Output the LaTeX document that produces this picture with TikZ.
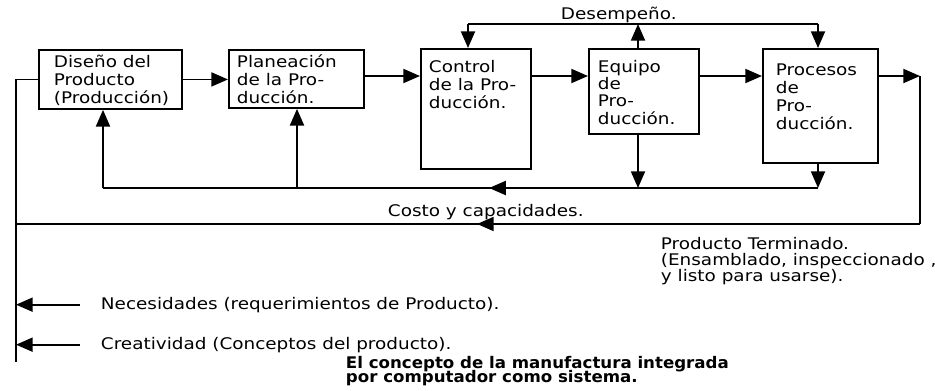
\documentclass[tikz,border=0pt]{standalone}
\usepackage{fontspec}
\setmainfont{DejaVu Sans}[FakeStretch=1.15]
\newfontfamily\capfont{DejaVu Sans Bold}[FakeStretch=1.04]
\usetikzlibrary{arrows.meta, calc, positioning, decorations.markings}
\newcommand{\tightlines}{\lineskiplimit=-5pt\relax}

\begin{document}
\begin{tikzpicture}[x=.75pt, y=-.75pt, >={Triangle[length=12.5pt,width=10.5pt]}, line width=1.4pt,
    blok/.style={draw, anchor=north west, inner sep=0pt},
    btxt/.style={anchor=north west, align=left, inner sep=0pt, font=\fontsize{12}{13.5}\selectfont},
    midarrow/.style={postaction={decorate}, decoration={markings, mark=at position #1 with {\arrow{>}}}}]
\useasboundingbox (0,0) rectangle (935,390);
\node[blok, minimum width=107.25pt, minimum height=44.25pt] (dis) at (38,49) {};
\node[blok, minimum width=101.25pt, minimum height=43.5pt] (pla) at (228,49) {};
\node[blok, minimum width=82.5pt, minimum height=90pt] (con) at (420,48) {};
\node[blok, minimum width=82.5pt, minimum height=63.75pt] (equ) at (588,48) {};
\node[blok, minimum width=86.25pt, minimum height=85.5pt] (pro) at (762,48) {};
\node[btxt] (disT) at (53,54) {Diseño del\\Producto\\(Producción)};
\node[btxt] (plaT) at (236,54) {Planeación\\de la Pro-\\ducción.};
\node[btxt] (conT) at (428,59) {Control\\de la Pro-\\ducción.};
\node[btxt, font=\fontsize{12}{13}\selectfont] (equT) at (597,59) {Equipo\\de\\Pro-\\ducción.};
\node[btxt] (proT) at (775,63) {Procesos\\de\\Pro-\\ducción.};
\node[btxt] (desT) at (560,6) {Desempeño.};
\node[btxt] (cosT) at (387,203) {Costo y capacidades.};
\node[btxt, font=\fontsize{12}{12}\selectfont] (prodT) at (660,236) {Producto Terminado.\\(Ensamblado, inspeccionado ,\\y listo para usarse).};
\node[btxt] (necT) at (100,296) {Necesidades (requerimientos de Producto).};
\node[btxt] (creT) at (100,336) {Creatividad (Conceptos del producto).};
\node[btxt, font={\capfont\fontsize{12}{10.5}\selectfont\tightlines}] (capT) at (345,355) {El concepto de la manufactura integrada\\por computador como sistema.};
\coordinate (row) at (0,76);
\coordinate (oR) at (920,76);
\coordinate (oB) at (920,224);
\coordinate (oL) at (16,224);
\coordinate (lB) at (16,362);
\coordinate (cb1) at (103,188);
\coordinate (cb2) at (297,188);
\coordinate (cb4) at (638,188);
\coordinate (cb5) at (818,188);
\coordinate (ct3) at (468,24);
\coordinate (ct4) at (638,24);
\coordinate (ct5) at (818,24);
\draw[->] (dis.east) -- (dis.east -| pla.west);
\draw[->] (pla.east |- row) -- (con.west |- row);
\draw[->] (con.east |- row) -- (equ.west |- row);
\draw[->] (equ.east |- row) -- (pro.west |- row);
\draw[->] (pro.east |- row) -- (oR);
\draw (oR) -- (oB);
\draw[midarrow=0.49] (oB) -- (oL);
\draw (dis.west) -- (dis.west -| lB) -- (lB);
\draw[->] (cb1) -- (cb1 |- dis.south);
\draw[->] (cb2) -- (cb2 |- pla.south);
\draw[->] (cb4 |- equ.south) -- (cb4);
\draw[->] (cb5 |- pro.south) -- (cb5);
\draw[midarrow=0.46] (cb5) -- (cb1);
\draw[->] (ct4 |- equ.north) -- (ct4);
\draw[->] (ct3) -- (ct3 |- con.north);
\draw[->] (ct5) -- (ct5 |- pro.north);
\draw (ct3) -- (ct5);
\draw[->] ([xshift=-15pt]necT.west) -- (necT.west -| lB);
\draw[->] ([xshift=-15pt]creT.west) -- (creT.west -| lB);
\end{tikzpicture}
\end{document}
